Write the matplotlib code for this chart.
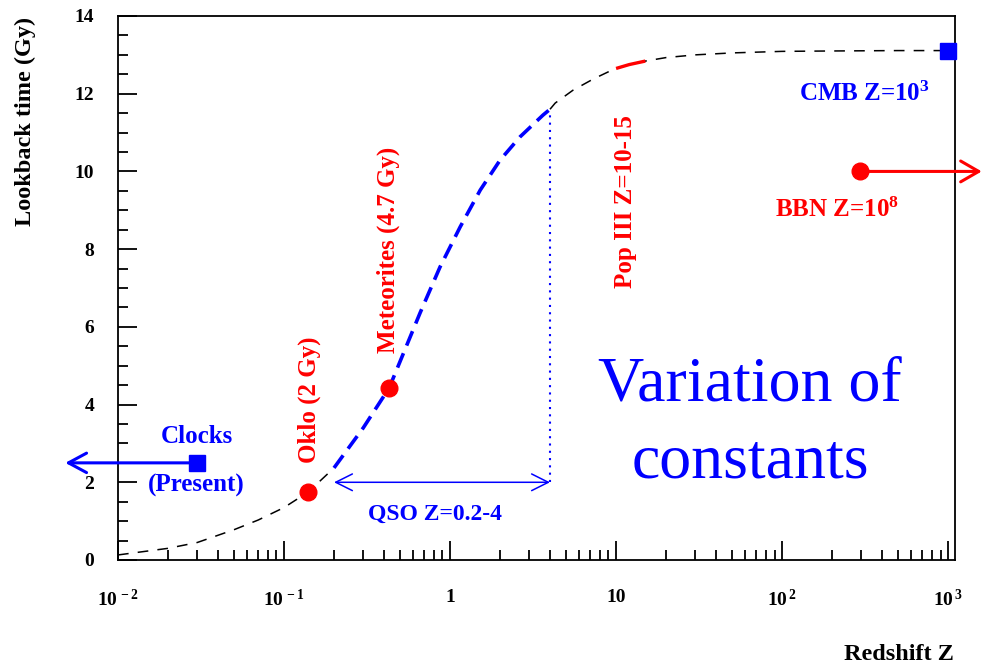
import numpy as np
import matplotlib
matplotlib.use("Agg")
from matplotlib import pyplot as plt
from matplotlib.ticker import FixedLocator, NullFormatter, MultipleLocator

plt.rcParams['font.family'] = ['Liberation Serif', 'DejaVu Serif']
plt.rcParams['font.weight'] = 'bold'
plt.rcParams['mathtext.fontset'] = 'custom'
plt.rcParams['mathtext.rm'] = 'Liberation Serif:bold'
plt.rcParams['mathtext.it'] = 'Liberation Serif:bold'
plt.rcParams['mathtext.bf'] = 'Liberation Serif:bold'

# lookback time curve
z_curve = [0.01, 0.02, 0.03, 0.05, 0.07, 0.1, 0.14, 0.2, 0.3, 0.43, 0.66, 0.87,
           1.15, 1.52, 2.0, 2.64, 3.63, 4.0, 4.3, 5.5, 7.3, 8.95, 10, 12, 15,
           20, 30, 50, 100, 200, 500, 1000]
t_curve = [0.13, 0.30, 0.45, 0.78, 1.03, 1.35, 1.75, 2.37, 3.40, 4.43, 6.36, 7.54,
           8.57, 9.52, 10.29, 10.89, 11.45, 11.6, 11.76, 12.09, 12.38, 12.56, 12.65, 12.75, 12.84,
           12.93, 13.0, 13.05, 13.09, 13.1, 13.11, 13.11]

qso_range = [0.2, 4.0]
qso_y = 2.0
qso_top = 11.5
pop3_range = [10, 15]

# points
oklo = (0.14, 1.75)
meteor = (0.43, 4.43)
clocks = (0.030, 2.5)
cmb = (1000, 13.11)
bbn = (295, 10.0)

x_ticks = [1e-2, 1e-1, 1, 10, 1e2, 1e3]
x_labels = [r'$10^{\,-2}$', r'$10^{\,-1}$', '1', '10', r'$10^{\,2}$', r'$10^{\,3}$']

blue = '#0000ff'
red = '#ff0000'

fig = plt.figure(figsize=(9.83, 6.65), dpi=100)
ax = fig.add_axes([118/983, 105/665, 837/983, 544/665])
ax.set_xscale('log')
ax.set_xlim(0.01, 1100)
ax.set_ylim(0, 14)

z = np.array(z_curve)
t = np.array(t_curve)
lo = z <= qso_range[0]
hi = z >= qso_range[1]
ax.plot(z[lo], t[lo], color='black', lw=1.1, dashes=(7, 6))
ax.plot(z[hi], t[hi], color='black', lw=1.1, dashes=(7, 6))
m = (z >= qso_range[0]) & (z <= qso_range[1])
ax.plot(z[m], t[m], color=blue, lw=2.6, dashes=(4.3, 2.3))
m = (z >= pop3_range[0]) & (z <= pop3_range[1])
ax.plot(z[m], t[m], color=red, lw=2.4, solid_capstyle='butt', zorder=3)

# QSO range
ax.plot([qso_range[1], qso_range[1]], [qso_y, qso_top], color=blue, lw=1.5,
        linestyle=(0, (1, 2.5)))
ax.annotate('', xy=(qso_range[0], qso_y), xytext=(qso_range[1], qso_y),
            arrowprops=dict(arrowstyle='<->,head_length=1.2,head_width=0.6',
                            color=blue, lw=1.1, shrinkA=0, shrinkB=0))
ax.text(0.81, 1.18, 'QSO Z=0.2-4', color=blue, fontsize=17, ha='center', va='center')

# points
ax.plot(*oklo, 'o', color=red, ms=12)
ax.plot(*meteor, 'o', color=red, ms=12)
ax.plot(*bbn, 'o', color=red, ms=12, zorder=5)
ax.plot(*clocks, 's', color=blue, ms=12, zorder=5)
ax.plot(*cmb, 's', color=blue, ms=12, clip_on=False, zorder=5)

ax.annotate('', xy=(-0.063, clocks[1]), xycoords=('axes fraction', 'data'),
            xytext=clocks, textcoords='data', annotation_clip=False,
            arrowprops=dict(arrowstyle='->,head_length=1.3,head_width=0.7',
                            color=blue, lw=2.2, shrinkA=0, shrinkB=0))
ax.annotate('', xy=(1.032, bbn[1]), xycoords=('axes fraction', 'data'),
            xytext=bbn, textcoords='data', annotation_clip=False,
            arrowprops=dict(arrowstyle='->,head_length=1.3,head_width=0.75',
                            color=red, lw=2.2, shrinkA=0, shrinkB=0))

ax.text(0.0297, 3.17, 'Clocks', color=blue, fontsize=18, ha='center', va='center')
ax.text(0.0297, 1.93, '(Present)', color=blue, fontsize=18, ha='center', va='center')
ax.text(0.141, 2.5, 'Oklo (2 Gy)', color=red, fontsize=18, rotation=90, ha='center', va='bottom')
ax.text(0.423, 5.33, 'Meteorites (4.7 Gy)', color=red, fontsize=18, rotation=90, ha='center', va='bottom')
ax.text(11.4, 7.0, 'Pop III Z=10-15', color=red, fontsize=18, rotation=90, ha='center', va='bottom')
ax.text(315, 12.0, r'CMB Z=10$^{3}$', color=blue, fontsize=18, ha='center', va='center')
ax.text(214, 9.0, r'BBN Z=10$^{8}$', color=red, fontsize=18, ha='center', va='center')
ax.text(64, 3.5, 'Variation of\nconstants', color=blue, fontsize=46, fontweight='normal',
        ha='center', va='center', linespacing=1.42)

# axes style
ax.xaxis.set_major_locator(FixedLocator(x_ticks))
ax.set_xticklabels(x_labels)
ax.xaxis.set_minor_locator(FixedLocator([k * 10.0**e for e in range(-2, 3) for k in range(2, 10)]))
ax.xaxis.set_minor_formatter(NullFormatter())
ax.yaxis.set_major_locator(MultipleLocator(2))
ax.yaxis.set_minor_locator(MultipleLocator(0.5))
ax.tick_params(which='both', direction='in', top=False, right=False, width=1.3)
ax.tick_params(which='major', length=14, labelsize=14)
ax.tick_params(axis='x', which='major', pad=21)
ax.tick_params(axis='y', which='major', pad=17)
ax.tick_params(which='minor', length=7)
for s in ax.spines.values():
    s.set_linewidth(1.3)

fig.text(25/983, 1 - 17/665, 'Lookback time (Gy)', fontsize=17.5, rotation=90, ha='center', va='top')
fig.text(954/983, 1 - 655/665, 'Redshift Z', fontsize=17.5, ha='right', va='center')

fig.savefig('out.png', dpi=100)
